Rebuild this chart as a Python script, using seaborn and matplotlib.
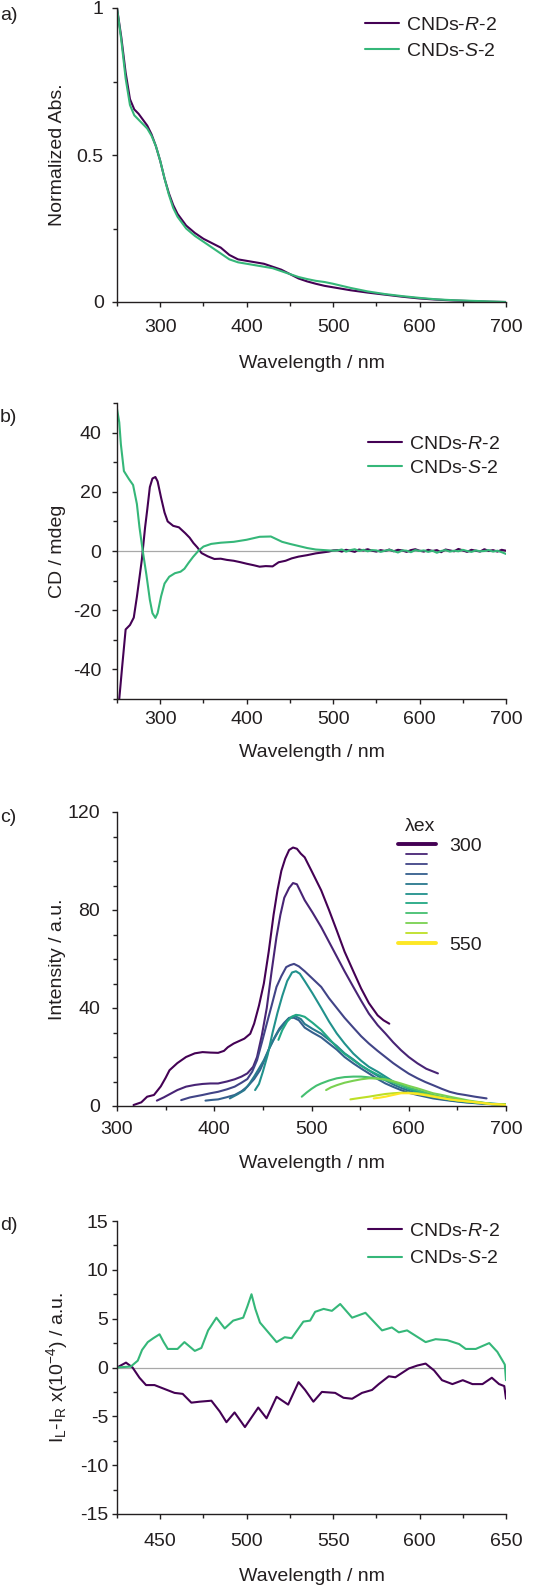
import numpy as np
import pandas as pd
import matplotlib
matplotlib.use("Agg")
import matplotlib.pyplot as plt
import seaborn as sns
from matplotlib.lines import Line2D
from matplotlib.legend_handler import HandlerLine2D
from matplotlib.ticker import MultipleLocator, FuncFormatter

# ---------------- data ----------------
# (a) normalized absorption
wl_abs = [250, 255, 260, 265, 270, 275, 280, 285, 290, 295, 300, 305, 310, 315, 320, 330, 340, 350,
          360, 370, 380, 390, 400, 410, 420, 430, 440, 450, 460, 470, 480, 490, 500, 520, 540, 560,
          580, 600, 620, 640, 660, 680, 700]
abs_R = [1.0, 0.90, 0.78, 0.69, 0.655, 0.64, 0.62, 0.60, 0.57, 0.53, 0.48, 0.42, 0.37, 0.33, 0.30,
         0.26, 0.235, 0.215, 0.20, 0.185, 0.16, 0.145, 0.14, 0.135, 0.13, 0.12, 0.11, 0.095, 0.08,
         0.07, 0.062, 0.055, 0.05, 0.04, 0.032, 0.025, 0.018, 0.012, 0.008, 0.005, 0.003, 0.001, 0.0]
abs_S = [1.0, 0.89, 0.76, 0.67, 0.635, 0.62, 0.605, 0.59, 0.565, 0.53, 0.48, 0.42, 0.365, 0.32, 0.29,
         0.25, 0.225, 0.205, 0.185, 0.165, 0.145, 0.135, 0.13, 0.125, 0.12, 0.115, 0.105, 0.095, 0.085,
         0.078, 0.072, 0.068, 0.062, 0.048, 0.036, 0.027, 0.02, 0.014, 0.009, 0.006, 0.004, 0.002, 0.0]

# (b) circular dichroism
wl_cd_R = [250, 252.6, 256, 260, 265, 269.4, 273, 276, 278.7, 282.5, 285, 288, 291, 294.4, 297, 301,
           305, 308.6, 315, 321.6, 329, 334, 338.4, 343, 347.8, 355, 362.7, 370, 377, 385, 393, 400,
           408, 415, 422, 430, 437, 445, 452, 460, 470, 480, 490, 495]
cd_R = [-56, -50, -39, -26.5, -25, -22.5, -15.5, -9, -3, 8, 14, 21.6, 24.5, 25, 23.5, 18, 13, 10, 8.5,
        8, 6, 4.5, 2.7, 1.2, -0.7, -1.8, -2.7, -2.6, -3, -3.3, -3.8, -4.3, -4.8, -5.3, -5.1, -5.2,
        -3.8, -3.3, -2.5, -1.9, -1.4, -0.8, -0.4, -0.2]
wl_cd_S = [250, 252.6, 254.5, 258, 263.8, 268.6, 273, 276, 279.8, 284, 288, 291, 294.4, 297, 301, 305,
           310.4, 317, 323.5, 328, 332.8, 338, 344, 350, 359, 370, 385, 400, 415, 428, 441, 450, 460,
           470, 480, 490, 495]
cd_S = [48, 43.5, 36, 27, 24.3, 22.3, 15.9, 8, 0, -8, -16.5, -21, -22.6, -21, -15.3, -11, -8.7, -7.5,
        -7, -6, -4, -2, 0, 1.5, 2.4, 2.8, 3.1, 3.8, 4.8, 4.9, 3.1, 2.4, 1.7, 1.0, 0.5, 0.3, 0.2]
wl_cd_tail = [500, 505, 510, 515, 520, 525, 530, 535, 540, 545, 550, 555, 560, 565, 570, 575, 580,
              585, 590, 595, 600, 605, 610, 615, 620, 625, 630, 635, 640, 645, 650, 655, 660, 665,
              670, 675, 680, 685, 690, 695, 700]
cd_R_tail = [0.2, 0.3, -0.2, 0.4, 0.1, -0.3, 0.5, 0.2, 0.6, 0.1, -0.2, 0.3, 0.0, 0.5, -0.1, 0.4, 0.2,
             -0.3, 0.3, 0.6, 0.1, -0.2, 0.4, 0.0, 0.3, -0.4, 0.5, 0.2, -0.1, 0.7, 0.2, -0.3, 0.4,
             0.1, -0.2, 0.6, 0.0, 0.3, -0.2, 0.4, 0.1]
cd_S_tail = [0.1, 0.2, 0.5, -0.2, 0.3, 0.6, 0.0, 0.4, -0.1, 0.3, 0.2, -0.3, 0.1, 0.4, 0.0, -0.5, 0.2,
             0.1, -0.4, 0.3, 0.0, 0.2, -0.3, 0.1, -0.6, 0.0, 0.3, -0.2, 0.1, -0.1, 0.4, 0.0, -0.3,
             0.2, -0.1, 0.0, 0.3, -0.2, 0.1, -0.4, -1.0]

# (c) emission spectra at different excitation wavelengths
ex_labels = [300, 325, 350, 375, 400, 425, 450, 475, 500, 525, 550]
wl_ex300 = [317, 325, 331, 338, 345, 350, 354, 362, 371, 380, 388, 396, 404, 410, 414, 420, 431, 437,
            441, 446, 451, 456, 461, 465, 469, 473, 477, 481, 485, 489, 493, 500, 510, 518, 526, 534,
            543, 551, 559, 568, 574, 580]
em_ex300 = [0.4, 1.5, 3.8, 4.5, 8, 11.5, 14.6, 17.5, 20, 21.5, 22, 21.8, 21.7, 22.5, 24, 25.5, 27.5,
            29.5, 33.6, 41, 50, 63, 78, 88, 96, 101, 104.5, 105.5, 105, 103, 101.5, 96, 88, 80, 71.6,
            63, 55, 48, 42, 37, 35, 33.6]
wl_ex325 = [341, 348, 355, 362, 371, 380, 388, 396, 404, 413, 421, 428, 434, 440, 444, 449, 454, 459,
            464, 468, 472, 477, 481, 485, 493, 501, 510, 518, 526, 534, 543, 551, 559, 568, 576, 584,
            592, 600, 609, 618, 630]
em_ex325 = [2.2, 3.5, 5, 6.5, 7.9, 8.6, 9, 9.2, 9.2, 10, 10.9, 12, 13.3, 16, 20, 29, 40, 55, 69, 78,
            85, 89, 91, 90.5, 84, 79, 73, 67, 61, 55, 48.6, 43, 37.7, 33, 29.6, 26, 22.8, 20, 17.4,
            15.2, 13.3]
wl_ex350 = [366, 375, 388, 396, 404, 413, 421, 428, 434, 439, 444, 449, 454, 459, 464, 469, 474, 478,
            482, 487, 493, 501, 510, 518, 526, 534, 543, 551, 559, 568, 576, 584, 592, 600, 609, 617,
            625, 634, 642, 650, 658, 668, 680]
em_ex350 = [2.4, 3.5, 4.5, 5.2, 5.8, 6.8, 7.9, 9.5, 11, 14, 18.7, 26, 33.6, 41, 48.6, 53, 56.7, 57.5,
            58, 57, 55, 52, 48.6, 44, 40, 36, 32, 28.5, 25.5, 22.5, 20, 17.5, 15.3, 13.2, 11.3, 9.8,
            8.5, 7, 5.8, 5, 4.5, 3.8, 3.1]
wl_ex375 = [391, 398, 404, 413, 421, 428, 434, 441, 447, 452, 457, 462, 467, 472, 477, 482, 487, 493,
            501, 510, 518, 526, 534, 543, 551, 559, 568, 576, 584, 592, 600, 609, 617, 625, 634, 642,
            655, 670, 685, 700]
em_ex375 = [2.2, 2.5, 2.7, 3.6, 4.5, 6, 7.9, 11, 14.6, 19, 24, 28, 31.6, 34, 36, 36, 35, 32, 30, 28,
            25.5, 23, 20, 17.4, 15.3, 13.3, 11, 9.2, 7.8, 6.5, 5.4, 4.5, 3.8, 3.1, 2.6, 2.2, 1.6,
            1.1, 0.7, 0.5]
wl_ex400 = [416, 424, 431, 436, 441, 446, 451, 456, 461, 466, 471, 476, 480, 484, 489, 493, 501, 510,
            518, 526, 534, 543, 551, 559, 568, 576, 584, 592, 600, 609, 617, 625, 634, 642, 655, 670,
            685, 700]
em_ex400 = [3.1, 4.8, 6.5, 9, 12, 15.3, 18.7, 23, 27, 30.5, 33, 35.5, 36.4, 36.5, 35.5, 33.5, 31.5,
            29.5, 27, 24.5, 21.5, 19, 16.5, 14.5, 12.3, 10.5, 8.8, 7.4, 6.2, 5.1, 4.2, 3.5, 2.9, 2.4,
            1.7, 1.2, 0.8, 0.5]
wl_ex425 = [442, 446, 450, 455, 460, 465, 470, 475, 480, 484, 488, 493, 501, 510, 518, 526, 534, 543,
            551, 559, 568, 576, 584, 592, 600, 609, 617, 625, 634, 642, 655, 670, 685, 700]
em_ex425 = [6.5, 9, 14, 21, 30, 38, 45, 51, 54.5, 55, 54, 51, 46, 40, 34.5, 29.6, 25.5, 21.4, 18.5,
            16, 14, 12, 10, 8.4, 7, 5.8, 4.8, 4, 3.4, 3, 2.2, 1.5, 1, 0.6]
wl_ex450 = [466, 470, 475, 480, 484, 488, 493, 501, 510, 518, 526, 534, 543, 551, 559, 568, 576, 584,
            592, 600, 609, 617, 625, 634, 642, 655, 670, 685, 700]
em_ex450 = [27, 31, 34.5, 36.5, 37.2, 37, 36.4, 34, 31, 27.5, 24, 21.3, 18.7, 16.5, 14.6, 12.8, 11.3,
            9.8, 8.5, 7.1, 5.8, 4.9, 4.1, 3.4, 2.7, 2, 1.4, 0.9, 0.6]
wl_ex475 = [490, 495, 500, 505, 510, 518, 526, 534, 543, 551, 559, 568, 576, 584, 592, 600, 609, 617,
            625, 634, 642, 652, 662, 674, 685, 700]
em_ex475 = [3.8, 5.5, 7, 8.3, 9.2, 10.4, 11.3, 11.8, 12, 12, 11.7, 11.2, 10.6, 9.6, 8.5, 7.5, 6.5,
            5.5, 4.5, 3.7, 3, 2.4, 1.8, 1.3, 0.8, 0.5]
wl_ex500 = [515, 520, 526, 534, 543, 551, 559, 568, 576, 584, 592, 600, 609, 617, 625, 634, 642, 652,
            662, 674, 685, 700]
em_ex500 = [6.5, 7.6, 8.5, 9.5, 10.3, 10.9, 11.3, 11.2, 10.9, 10.1, 9.2, 8.2, 7.2, 6.2, 5.2, 4.5,
            3.8, 3, 2.2, 1.5, 0.8, 0.5]
wl_ex525 = [540, 550, 559, 568, 576, 584, 592, 600, 609, 617, 625, 634, 642, 652, 662, 674, 685, 700]
em_ex525 = [2.7, 3.3, 3.8, 4.4, 4.9, 5.2, 5.4, 5.4, 5.2, 4.7, 4.1, 3.4, 2.7, 2.2, 1.8, 1.3, 0.8, 0.5]
wl_ex550 = [564, 570, 576, 584, 592, 600, 609, 617, 625, 634, 642, 652, 662, 674, 685, 700]
em_ex550 = [3.1, 3.4, 3.8, 4.5, 5.2, 5.2, 4.9, 4.4, 3.8, 3.2, 2.7, 2.2, 1.8, 1.3, 0.8, 0.5]

# (d) circularly polarized luminescence
wl_cpl_S = [425, 433, 437, 439.5, 442.8, 446, 449.6, 452, 454.4, 460, 464, 470, 473.8, 477.7, 482.5,
            487.3, 492.2, 498, 500.5, 502.8, 505, 507.7, 512.5, 517.3, 522, 526, 532.8, 536.7, 539.6,
            544.5, 549.3, 554.1, 561, 568.7, 578.3, 584, 588, 592.8, 603.5, 609.3, 616, 622.9, 626.7,
            632.5, 640.3, 645, 648, 649.3, 650]
cpl_S = [0, 0.1, 0.7, 1.8, 2.6, 3.0, 3.4, 2.6, 1.9, 1.9, 2.6, 1.7, 2.0, 3.8, 5.1, 4.0, 4.8, 5.1, 6.3,
         7.5, 6.0, 4.6, 3.6, 2.6, 3.1, 3.0, 4.7, 4.8, 5.7, 6.0, 5.8, 6.5, 5.1, 5.6, 3.8, 4.1, 3.6,
         3.8, 2.6, 2.9, 2.8, 2.4, 1.9, 1.9, 2.5, 1.6, 0.7, 0.3, -1.3]
wl_cpl_R = [425, 430.2, 434, 438, 441.8, 446.7, 452.5, 458.3, 463, 468, 472.8, 479.6, 484.4, 488.3,
            493, 499, 506.7, 511.5, 517.3, 524, 530, 533.8, 538.6, 543.5, 551.2, 556, 561, 566.7,
            572.5, 576.4, 582.2, 586, 593.8, 598.7, 603.5, 608.4, 613, 619, 625, 630.6, 636.4, 641.8,
            646, 649, 650]
cpl_R = [0, 0.5, 0, -1.05, -1.8, -1.8, -2.2, -2.6, -2.7, -3.6, -3.5, -3.4, -4.5, -5.6, -4.6, -6.1,
         -4.1, -5.2, -3.0, -3.8, -1.5, -2.3, -3.5, -2.5, -2.6, -3.1, -3.2, -2.6, -2.3, -1.7, -0.9,
         -1.0, -0.1, 0.2, 0.4, -0.3, -1.3, -1.7, -1.3, -1.7, -1.7, -1.05, -1.7, -1.9, -3.2]

# ---------------- style ----------------
FS = 14
sns.set_theme(style="ticks")
TXT = "#231f20"
plt.rcParams.update({
    "font.family": ["Liberation Sans", "DejaVu Sans"],
    "font.size": FS,
    "mathtext.fontset": "custom",
    "mathtext.rm": "Liberation Sans",
    "mathtext.it": "Liberation Sans:italic",
    "mathtext.bf": "Liberation Sans:bold",
    "axes.unicode_minus": False,
    "axes.linewidth": 1.0,
    "axes.edgecolor": TXT,
    "axes.labelcolor": TXT,
    "text.color": TXT,
    "xtick.color": TXT,
    "ytick.color": TXT,
    "xtick.labelsize": FS,
    "ytick.labelsize": FS,
    "axes.labelsize": FS,
    "xtick.major.size": 3.8,
    "ytick.major.size": 3.8,
    "xtick.minor.size": 2.6,
    "ytick.minor.size": 2.6,
    "xtick.major.width": 1.0,
    "ytick.major.width": 1.0,
    "xtick.minor.width": 1.0,
    "ytick.minor.width": 1.0,
    "xtick.direction": "out",
    "ytick.direction": "out",
})

C_R = "#440154"
C_S = "#35b779"
LW = 1.5
viridis = plt.get_cmap("viridis")
ex_colors = [viridis(i / (len(ex_labels) - 1)) for i in range(len(ex_labels))]

W, H = 542, 1586
fig = plt.figure(figsize=(W / 100, H / 100), dpi=100)


def add_ax(top_px, bottom_px, left_px=117, right_px=506):
    return fig.add_axes([left_px / W, 1 - bottom_px / H, (right_px - left_px) / W,
                         (bottom_px - top_px) / H])


ax_a = add_ax(8, 302)
ax_b = add_ax(403, 699)
ax_c = add_ax(812, 1106)
ax_d = add_ax(1221, 1514)

fmt = FuncFormatter(lambda v, p: f"{v:g}")

# (a)
sns.lineplot(x=wl_abs, y=abs_R, ax=ax_a, color=C_R, lw=LW, sort=False, estimator=None)
sns.lineplot(x=wl_abs, y=abs_S, ax=ax_a, color=C_S, lw=LW, sort=False, estimator=None)
ax_a.set_xlim(250, 700)
ax_a.set_ylim(0, 1)
ax_a.xaxis.set_major_locator(MultipleLocator(100))
ax_a.xaxis.set_minor_locator(MultipleLocator(50))
ax_a.yaxis.set_major_locator(MultipleLocator(0.5))
ax_a.yaxis.set_minor_locator(MultipleLocator(0.25))
ax_a.set_ylabel("Normalized Abs.")

# (b)
ax_b.axhline(0, color="#a8a8a8", lw=0.9, zorder=0)
sns.lineplot(x=np.concatenate([wl_cd_R, wl_cd_tail]), y=np.concatenate([cd_R, cd_R_tail]), ax=ax_b,
             color=C_R, lw=LW, sort=False, estimator=None)
sns.lineplot(x=np.concatenate([wl_cd_S, wl_cd_tail]), y=np.concatenate([cd_S, cd_S_tail]), ax=ax_b,
             color=C_S, lw=LW, sort=False, estimator=None)
ax_b.set_xlim(250, 700)
ax_b.set_ylim(-50, 50)
ax_b.xaxis.set_major_locator(MultipleLocator(100))
ax_b.xaxis.set_minor_locator(MultipleLocator(50))
ax_b.yaxis.set_major_locator(MultipleLocator(20))
ax_b.yaxis.set_minor_locator(MultipleLocator(10))
ax_b.set_ylabel("CD / mdeg")

# (c)
em_wls = [wl_ex300, wl_ex325, wl_ex350, wl_ex375, wl_ex400, wl_ex425, wl_ex450, wl_ex475, wl_ex500,
          wl_ex525, wl_ex550]
em_vals = [em_ex300, em_ex325, em_ex350, em_ex375, em_ex400, em_ex425, em_ex450, em_ex475, em_ex500,
           em_ex525, em_ex550]
df_em = pd.concat([pd.DataFrame({"wl": w, "I": v, "ex": e})
                   for w, v, e in zip(em_wls, em_vals, ex_labels)], ignore_index=True)
sns.lineplot(data=df_em, x="wl", y="I", hue="ex", palette=ex_colors, ax=ax_c, lw=LW,
             sort=False, estimator=None, legend=False)
ax_c.set_xlim(300, 700)
ax_c.set_ylim(0, 120)
ax_c.xaxis.set_major_locator(MultipleLocator(100))
ax_c.xaxis.set_minor_locator(MultipleLocator(50))
ax_c.yaxis.set_major_locator(MultipleLocator(40))
ax_c.yaxis.set_minor_locator(MultipleLocator(10))
ax_c.set_ylabel("Intensity / a.u.")

# (d)
ax_d.axhline(0, color="#a8a8a8", lw=0.9, zorder=0)
sns.lineplot(x=wl_cpl_R, y=cpl_R, ax=ax_d, color=C_R, lw=LW, sort=False, estimator=None)
sns.lineplot(x=wl_cpl_S, y=cpl_S, ax=ax_d, color=C_S, lw=LW, sort=False, estimator=None)
ax_d.set_xlim(425, 650)
ax_d.set_ylim(-15, 15)
ax_d.xaxis.set_major_locator(MultipleLocator(50))
ax_d.xaxis.set_minor_locator(MultipleLocator(25))
ax_d.yaxis.set_major_locator(MultipleLocator(5))
ax_d.yaxis.set_minor_locator(MultipleLocator(2.5))
ax_d.set_ylabel("I$_\\mathregular{L}$-I$_\\mathregular{R}$ x(10$^{\\mathregular{-4}}$) / a.u.")

# common axis styling
xlab_y = {ax_a: -0.21, ax_b: -0.182, ax_c: -0.196, ax_d: -0.212}
xpad = {ax_a: 8.6, ax_b: 4.6, ax_c: 7.2, ax_d: 9.6}
ypad = {ax_a: 5.8, ax_b: 7.5, ax_c: 8.4, ax_d: 2.4}
for ax in (ax_a, ax_b, ax_c, ax_d):
    sns.despine(ax=ax)
    ax.yaxis.set_major_formatter(fmt)
    ax.set_xlabel("Wavelength / nm")
    ax.xaxis.label.set_verticalalignment("center")
    ax.xaxis.set_label_coords(0.5, xlab_y[ax])
    ax.yaxis.label.set_verticalalignment("center")
    ax.yaxis.set_label_coords(-0.154, 0.5)
    ax.tick_params(axis="x", which="major", pad=xpad[ax])
    ax.tick_params(axis="y", which="major", pad=ypad[ax])
    ax.set_facecolor("white")

# legends (a, b, d)
lab_R = "CNDs-$\\mathit{R}$-2"
lab_S = "CNDs-$\\mathit{S}$-2"
pair_handles = [Line2D([], [], color=C_R, lw=LW), Line2D([], [], color=C_S, lw=LW)]
for ax, anchor, ls in ((ax_a, (0.977, 0.972), 0.42), (ax_b, (0.985, 0.89), 0.32),
                       (ax_d, (0.985, 0.995), 0.5)):
    ax.legend(pair_handles, [lab_R, lab_S], loc="upper right", bbox_to_anchor=anchor,
              frameon=False, borderpad=0, borderaxespad=0, handlelength=1.75,
              handletextpad=0.35, labelspacing=ls, fontsize=FS)


# legend (c)
class ShortLineHandler(HandlerLine2D):
    def __init__(self, frac=1.0, **kw):
        super().__init__(**kw)
        self.frac = frac

    def get_xdata(self, legend, xdescent, ydescent, width, height, fontsize):
        xd, xm = super().get_xdata(legend, xdescent, ydescent, width, height, fontsize)
        xd = np.asarray(xd, dtype=float)
        c = (xd[0] + xd[-1]) / 2
        half = (xd[-1] - xd[0]) / 2 * self.frac
        return np.array([c - half, c + half]), xm


ex_handles, ex_texts, hmap = [], [], {}
for i, (e, col) in enumerate(zip(ex_labels, ex_colors)):
    end = i in (0, len(ex_labels) - 1)
    h = Line2D([], [], color=col, lw=2.8 if end else 1.3)
    ex_handles.append(h)
    ex_texts.append(str(e) if end else "")
    hmap[h] = ShortLineHandler(frac=1.0 if end else 0.55)
ax_c.legend(ex_handles, ex_texts, handler_map=hmap, loc="upper right",
            bbox_to_anchor=(0.938, 0.913), frameon=False, borderpad=0, borderaxespad=0,
            handlelength=1.95, handletextpad=0.7, labelspacing=-0.40, fontsize=FS)
ax_c.text(0.779, 0.949, "λex", transform=ax_c.transAxes, ha="center", va="center", fontsize=FS)

# panel letters
for lab, ypx in (("a)", 16), ("b)", 418), ("c)", 818), ("d)", 1226)):
    fig.text(0.0, 1 - ypx / H, lab, ha="left", va="center", fontsize=FS)

fig.savefig("out.png", dpi=100, facecolor="white")
